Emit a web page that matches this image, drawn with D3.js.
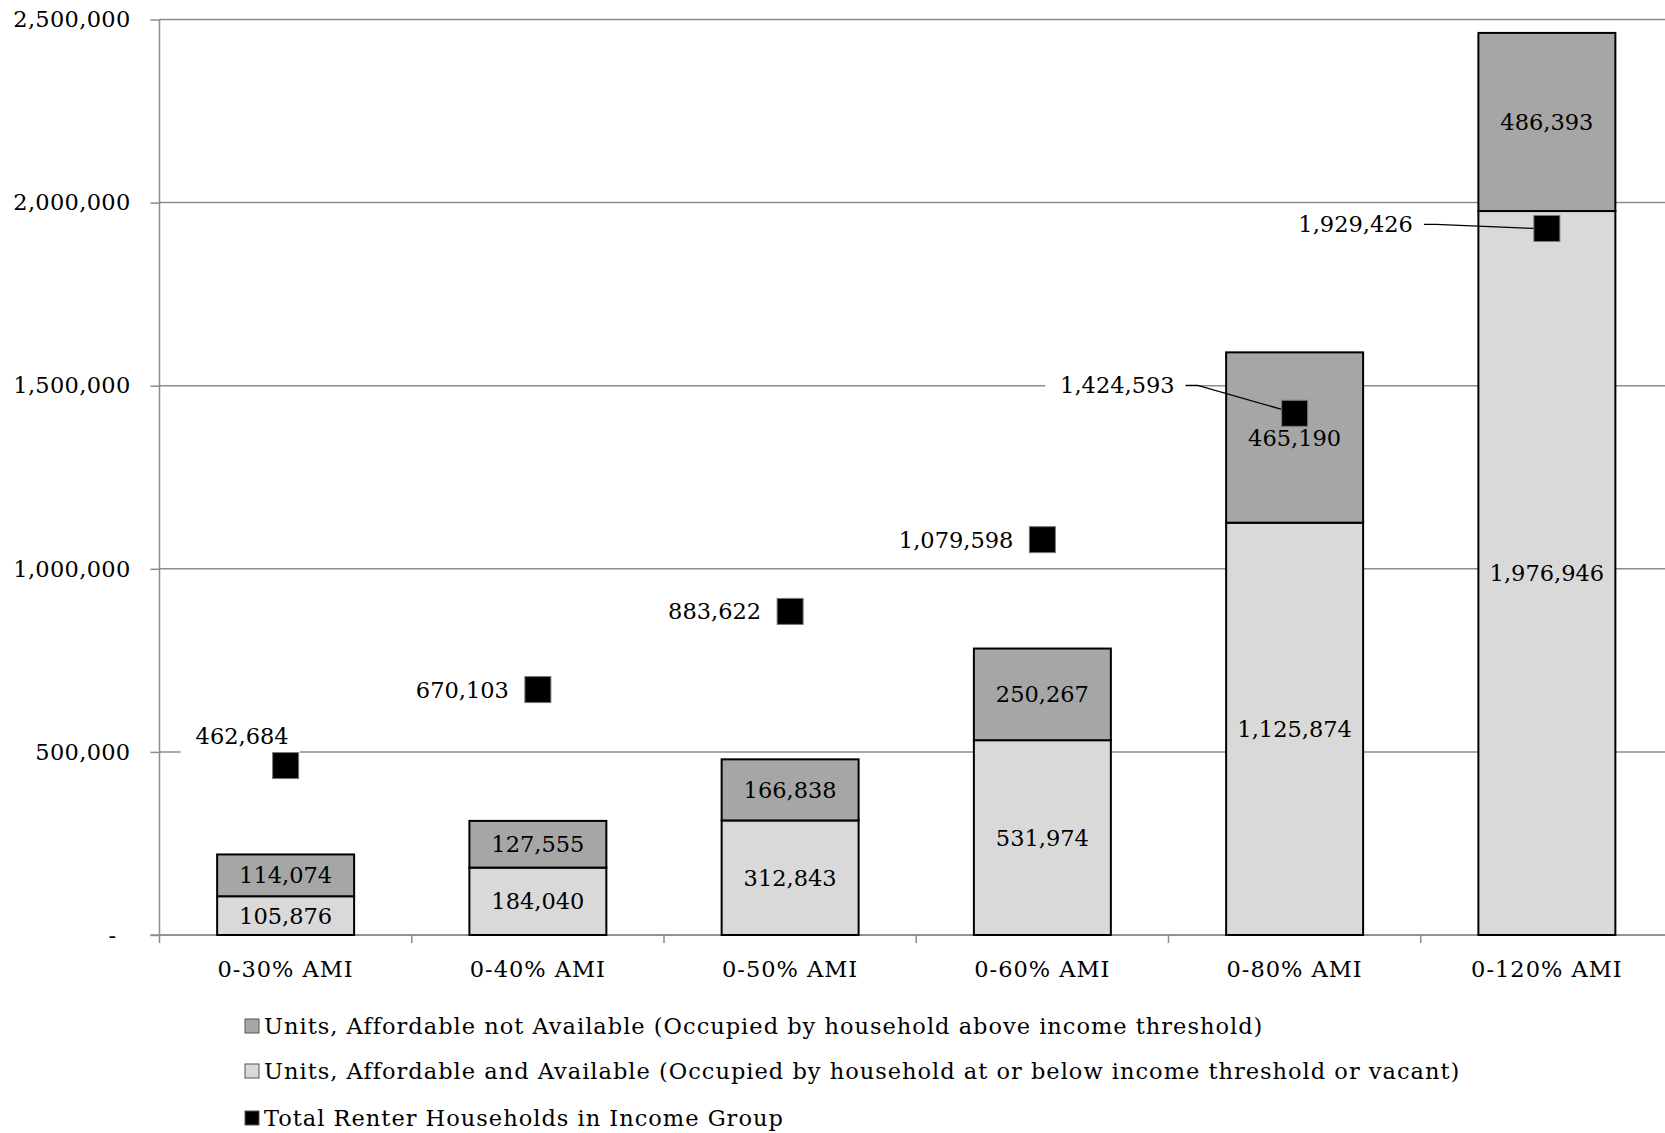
<!DOCTYPE html>
<html>
<head>
<meta charset="utf-8">
<script src="https://cdn.jsdelivr.net/npm/d3@7"></script>
<style>
  html, body { margin: 0; padding: 0; background: #fff; }
  svg { display: block; }
  text { font-family: "DejaVu Serif", "Liberation Serif", serif; fill: #000; }
</style>
</head>
<body>
<svg id="chart" width="1665" height="1133"></svg>
<script>
// ---------- data ----------
const categories = ["0-30% AMI", "0-40% AMI", "0-50% AMI", "0-60% AMI", "0-80% AMI", "0-120% AMI"];
const availableUnits = [105876, 184040, 312843, 531974, 1125874, 1976946];
const notAvailableUnits = [114074, 127555, 166838, 250267, 465190, 486393];
const totalRenters = [462684, 670103, 883622, 1079598, 1424593, 1929426];
const yTickValues = [0, 500000, 1000000, 1500000, 2000000, 2500000];
const yTickLabels = ["-", "500,000", "1,000,000", "1,500,000", "2,000,000", "2,500,000"];
const seriesNames = [
  "Units, Affordable not Available (Occupied by household above income threshold)",
  "Units, Affordable and Available (Occupied by household at or below income threshold or vacant)",
  "Total Renter Households in Income Group"
];
// label placement style for each total marker
const totalLabelPlacement = ["above", "left", "left", "left", "leader", "leader"];

// ---------- layout ----------
const FONT = 22.5;
const plotLeft = 159.5, plotRight = 1673, plotTop = 19.5, plotBottom = 935;
const colDark = "#a6a6a6", colLight = "#d9d9d9", gridCol = "#8c8c8c";

const svg = d3.select("#chart");
const x = d3.scaleBand().domain(categories).range([plotLeft, plotRight]).paddingInner(0).paddingOuter(0);
const y = d3.scaleLinear().domain([0, 2500000]).range([plotBottom, plotTop]);
const barW = x.bandwidth() * 0.543;
const cx = d => x(d) + x.bandwidth() / 2;
const fmt = d3.format(",");

// gridlines
svg.append("g").selectAll("line").data(yTickValues).join("line")
  .attr("x1", plotLeft).attr("x2", 1665)
  .attr("y1", d => y(d)).attr("y2", d => y(d))
  .attr("stroke", gridCol).attr("stroke-width", 1.5);

// left axis
const yAxis = d3.axisLeft(y).tickValues(yTickValues)
  .tickFormat((d, i) => yTickLabels[i]).tickSize(9).tickPadding(20);
const gy = svg.append("g").attr("transform", `translate(${plotLeft},0)`).call(yAxis);
gy.select(".domain").remove();
gy.selectAll(".tick line").attr("stroke", gridCol).attr("stroke-width", 1.5);
gy.selectAll(".tick text").attr("font-size", FONT).attr("font-family", "DejaVu Serif")
  .attr("letter-spacing", 0.3)
  .attr("dx", (d, i) => yTickLabels[i] === "-" ? -14 : 0);
// vertical axis line
svg.append("line").attr("x1", plotLeft).attr("x2", plotLeft)
  .attr("y1", plotTop).attr("y2", plotBottom + 8)
  .attr("stroke", gridCol).attr("stroke-width", 1.5);

// bottom axis: boundary ticks
const bounds = categories.map(c => x(c)).concat([plotRight]).slice(1);
svg.append("g").selectAll("line").data(bounds).join("line")
  .attr("x1", d => d).attr("x2", d => d)
  .attr("y1", plotBottom).attr("y2", plotBottom + 8)
  .attr("stroke", gridCol).attr("stroke-width", 1.5);
svg.append("line").attr("x1", plotLeft - 9).attr("x2", 1665)
  .attr("y1", plotBottom).attr("y2", plotBottom)
  .attr("stroke", gridCol).attr("stroke-width", 1.5);
const xAxis = d3.axisBottom(x).tickSize(0).tickPadding(26);
const gx = svg.append("g").attr("transform", `translate(0,${plotBottom})`).call(xAxis);
gx.select(".domain").remove();
gx.selectAll(".tick text").attr("font-size", FONT).attr("font-family", "DejaVu Serif")
  .attr("letter-spacing", 1);

// stacked bars
const stackData = categories.map((c, i) => ({ cat: c, avail: availableUnits[i], notAvail: notAvailableUnits[i] }));
const stack = d3.stack().keys(["avail", "notAvail"])(stackData);
const fills = { avail: colLight, notAvail: colDark };
stack.forEach(layer => {
  const g = svg.append("g");
  g.selectAll("rect").data(layer).join("rect")
    .attr("x", d => cx(d.data.cat) - barW / 2)
    .attr("width", barW)
    .attr("y", d => y(d[1]))
    .attr("height", d => y(d[0]) - y(d[1]))
    .attr("fill", fills[layer.key])
    .attr("stroke", "#000").attr("stroke-width", 2);
});
stack.forEach(layer => {
  svg.append("g").selectAll("text").data(layer).join("text")
    .attr("x", d => cx(d.data.cat))
    .attr("y", d => (y(d[0]) + y(d[1])) / 2)
    .attr("text-anchor", "middle").attr("dominant-baseline", "central")
    .attr("font-size", FONT)
    .text(d => fmt(d.data[layer.key]));
});

// total labels
const MS = 26;
const labG = svg.append("g");
totalRenters.forEach((v, i) => {
  const mx = cx(categories[i]), my = y(v);
  const p = totalLabelPlacement[i];
  let tx, ty;
  if (p === "above") { tx = mx + 3; ty = my - 30; }
  else if (p === "left") { tx = mx - 29; ty = my; }
  else if (i === 4) { tx = mx - 120; ty = my - 28; }
  else { tx = mx - 134; ty = my - 4; }
  const t = labG.append("text").attr("x", tx).attr("y", ty)
    .attr("text-anchor", "end").attr("dominant-baseline", "central")
    .attr("font-size", FONT).text(fmt(v));
  const bb = t.node().getBBox();
  labG.insert("rect", "text").attr("x", bb.x - 15).attr("y", ty - 18)
    .attr("width", bb.width + 26).attr("height", 36).attr("fill", "#fff");
  if (p === "leader") {
    const sx = bb.x + bb.width + 11;
    svg.append("path")
      .attr("d", `M${sx},${ty} L${sx + 12},${ty} L${mx - MS / 2},${my - (i === 4 ? 4 : 0)}`)
      .attr("fill", "none").attr("stroke", "#000").attr("stroke-width", 1.3);
  }
});
// markers
svg.append("g").selectAll("rect").data(totalRenters).join("rect")
  .attr("x", (d, i) => cx(categories[i]) - MS / 2)
  .attr("y", d => y(d) - MS / 2)
  .attr("width", MS).attr("height", MS)
  .attr("fill", "#000").attr("stroke", "#777").attr("stroke-width", 1);

// legend
const legendFills = [colDark, colLight, "#000"];
const legendY = [1026, 1071, 1118];
const lg = svg.append("g");
seriesNames.forEach((n, i) => {
  lg.append("rect").attr("x", 245).attr("y", legendY[i] - 7).attr("width", 14).attr("height", 14)
    .attr("fill", legendFills[i]).attr("stroke", "#555").attr("stroke-width", 1);
  lg.append("text").attr("x", 264).attr("y", legendY[i]).attr("dominant-baseline", "central")
    .attr("font-size", FONT).attr("letter-spacing", 1).text(n);
});
</script>
</body>
</html>
